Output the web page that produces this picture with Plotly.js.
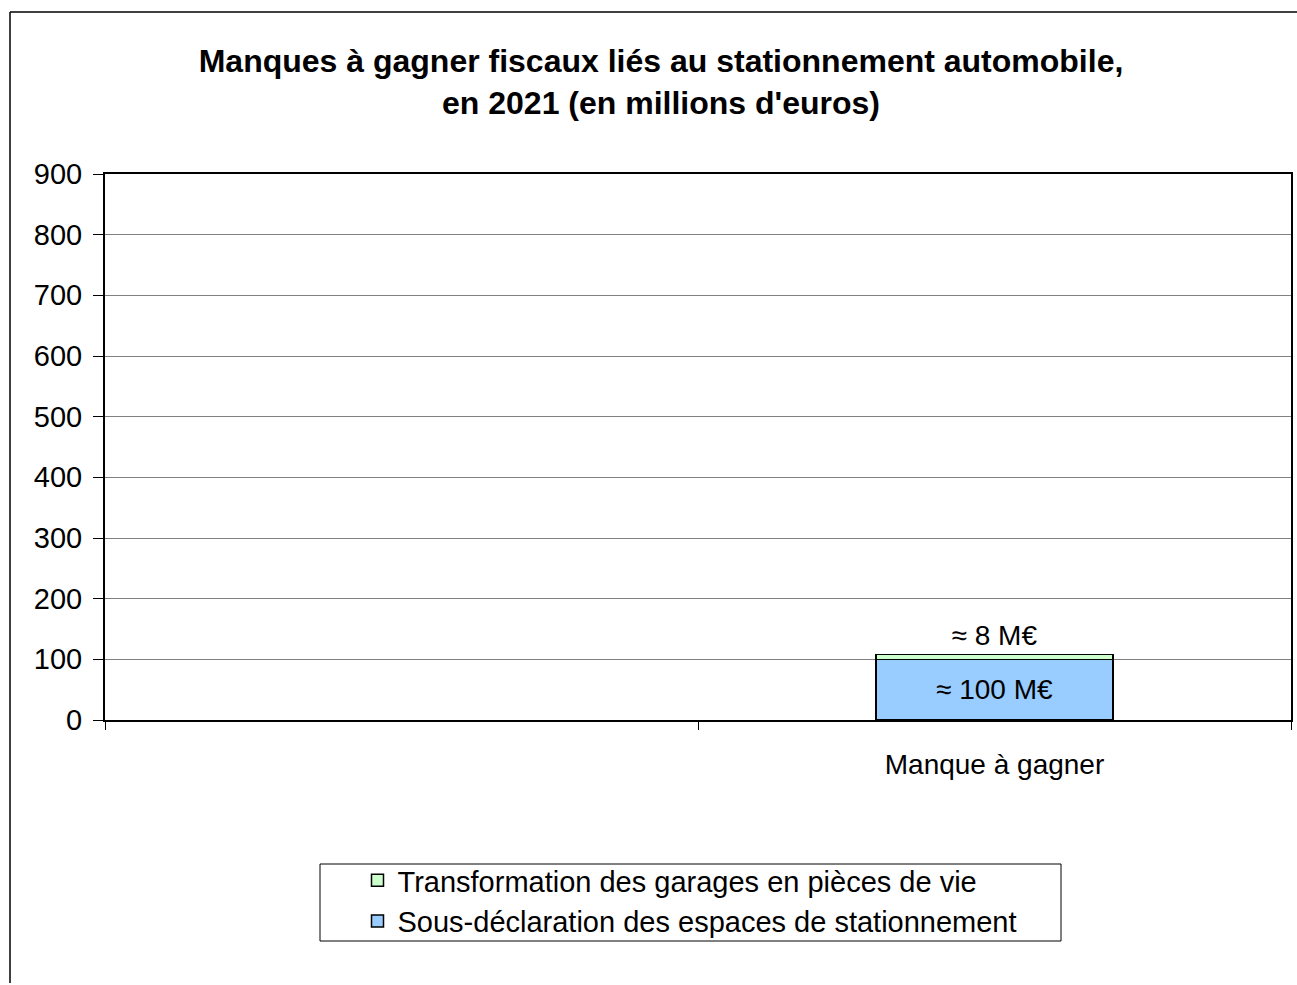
<!DOCTYPE html>
<html>
<head>
<meta charset="utf-8">
<script src="https://cdn.plot.ly/plotly-3.0.1.min.js"></script>
<style>html,body{margin:0;padding:0;background:#fff;}#chart{width:1297px;height:985px;}</style>
</head>
<body>
<div id="chart"></div>
<script>
const categoryLabels = ["", "Manque à gagner"];
const categoryPositions = [0.5, 1.5];
const barPosition = [1.5];
const sousDeclaration = [100];
const transformation = [8];
const sousDeclarationLabel = ["≈ 100 M€"];
const transformationLabel = ["≈ 8 M€"];
const seriesNames = ["Sous-déclaration des espaces de stationnement", "Transformation des garages en pièces de vie"];
const yTicks = [0, 100, 200, 300, 400, 500, 600, 700, 800, 900];

const font = "Liberation Sans, Arial, sans-serif";

const traces = [
  {
    type: "bar", x: barPosition, y: sousDeclaration, name: seriesNames[0],
    width: 0.4,
    marker: {color: "#99CCFF", line: {color: "#000", width: 1.5}},
    text: sousDeclarationLabel, textposition: "inside", insidetextanchor: "middle",
    textfont: {family: font, size: 28, color: "#000"}, hoverinfo: "y+name"
  },
  {
    type: "bar", x: barPosition, y: transformation, name: seriesNames[1],
    width: 0.4,
    marker: {color: "#CCFFCC", line: {color: "#000", width: 1.5}},
    text: transformationLabel, textposition: "outside", cliponaxis: false,
    textfont: {family: font, size: 28, color: "#000"}, hoverinfo: "y+name"
  }
];

const L = 105, R = 1291, T = 174, B = 720;
const px = v => (v - L) / (R - L);
const py = v => (B - v) / (B - T);

const layout = {
  width: 1297, height: 985,
  margin: {l: L, r: 1297 - R, t: T, b: 985 - B},
  paper_bgcolor: "#fff", plot_bgcolor: "#fff",
  barmode: "stack",
  showlegend: true,
  font: {family: font, color: "#000", size: 28},
  title: {
    text: "<b>Manques à gagner fiscaux liés au stationnement automobile,<br>en 2021 (en millions d'euros)</b>",
    font: {family: font, size: 32, color: "#000"},
    x: 661 / 1297, xref: "container", xanchor: "center",
    y: 1 - 72 / 985, yref: "container", yanchor: "middle"
  },
  xaxis: {
    range: [0, 2], fixedrange: true,
    tickmode: "array", tickvals: categoryPositions, ticktext: categoryLabels,
    ticks: "", showgrid: false, zeroline: false,
    showline: true, mirror: true, linecolor: "#000", linewidth: 2,
    tickfont: {family: font, size: 28, color: "#000"},
    ticklabelstandoff: 18,
    minor: {tickmode: "linear", tick0: 0, dtick: 1, ticks: "outside", ticklen: 8, tickwidth: 1, tickcolor: "#000", showgrid: false}
  },
  yaxis: {
    range: [0, 900], fixedrange: true,
    tickmode: "array", tickvals: yTicks,
    ticks: "outside", ticklen: 10, tickwidth: 1, tickcolor: "#000",
    ticklabelstandoff: 5,
    showgrid: true, gridcolor: "#808080", gridwidth: 1, zeroline: false,
    showline: true, mirror: true, linecolor: "#000", linewidth: 2,
    tickfont: {family: font, size: 29, color: "#000"}
  },
  legend: {
    orientation: "v", traceorder: "reversed",
    x: px(690), xanchor: "center", y: py(901), yanchor: "middle",
    font: {family: font, size: 29, color: "#000"},
    bgcolor: "rgba(0,0,0,0)", borderwidth: 0,
    itemwidth: 30, tracegroupgap: 0
  },
  shapes: [
    {type: "line", xref: "paper", yref: "paper", x0: px(10), x1: px(1297), y0: py(12), y1: py(12), line: {color: "#000", width: 1.5}},
    {type: "line", xref: "paper", yref: "paper", x0: px(10), x1: px(10), y0: py(12), y1: py(983), line: {color: "#000", width: 1.5}},
    {type: "rect", xref: "paper", yref: "paper", x0: px(320), x1: px(1061), y0: py(864), y1: py(941), line: {color: "#000", width: 1}, fillcolor: "rgba(0,0,0,0)"}
  ]
};

Plotly.newPlot("chart", traces, layout, {displayModeBar: false, staticPlot: true});
</script>
</body>
</html>
